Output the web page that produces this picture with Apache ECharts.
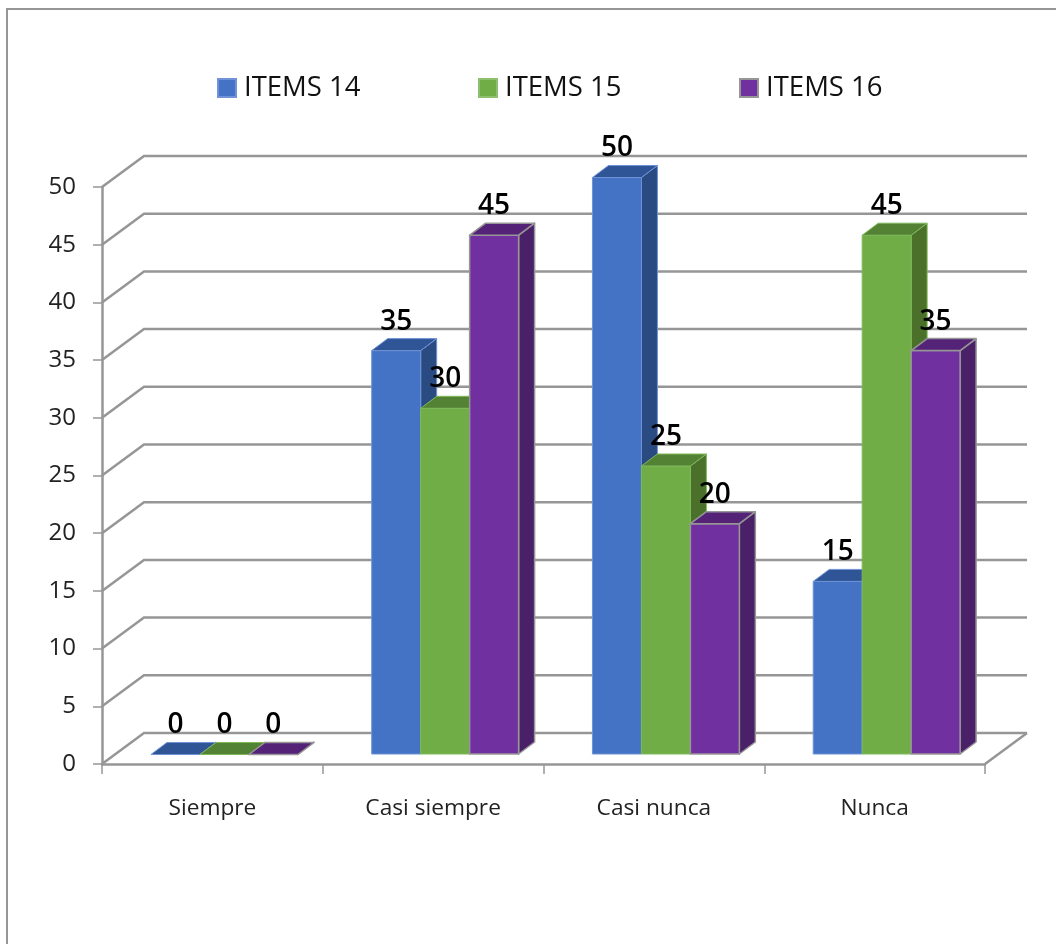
<!DOCTYPE html>
<html><head><meta charset="utf-8">
<style>html,body{margin:0;padding:0;background:#fff}#c{width:1056px;height:944px}canvas{filter:blur(.45px)}</style>
<script src="https://cdn.jsdelivr.net/npm/echarts@6/dist/echarts.min.js"></script>
</head><body><div id="c"></div>
<script>
const categories = ['Siempre', 'Casi siempre', 'Casi nunca', 'Nunca'];
const items14 = [0, 35, 50, 15];
const items15 = [0, 30, 25, 45];
const items16 = [0, 45, 20, 35];
const yTicks = [0, 5, 10, 15, 20, 25, 30, 35, 40, 45, 50];

const GRAY = '#969696';
const chart = echarts.init(document.getElementById('c'), null, {renderer: 'canvas'});

function wall(params, api) {
  const v = api.value(1);
  const band = api.size([1, 0])[0];
  const l = api.coord([0, v]);
  const r = api.coord([3, v]);
  const x0 = l[0] - band / 2, x1 = r[0] + band / 2, y = l[1];
  const children = [{
    type: 'polyline',
    shape: {points: [[x0, y], [x0 + 42, y - 31], [x1 + 42, y - 31]]},
    style: {stroke: GRAY, lineWidth: 2.5, fill: null}
  }];
  if (v === 0) {
    children.push({
      type: 'polyline',
      shape: {points: [[x1 + 42, y - 31], [x1, y]]},
      style: {stroke: GRAY, lineWidth: 2.5, fill: null}
    });
  }
  return {type: 'group', children};
}

function barRenderer(seriesPos, front, top, side, edge) {
  return function (params, api) {
    const cat = api.value(0), v = api.value(1);
    const band = api.size([1, 0])[0];
    const w = band * 0.2218;
    const c = api.coord([cat, v]);
    const b = api.coord([cat, 0]);
    const x0 = c[0] + band * 0.0545 + (seriesPos - 1.5) * w;
    const x1 = x0 + w;
    const yt = c[1] - 9.5, yb = b[1] - 10;
    const dx = 16, dy = 12;
    const st = {stroke: edge, lineWidth: edge === GRAY ? 1.5 : 1, lineJoin: 'round'};
    const children = [];
    children.push({type: 'polygon', shape: {points: [[x1, yt], [x1 + dx, yt - dy], [x1 + dx, yb - dy], [x1, yb]]}, style: Object.assign({fill: side}, st)});
    if (v > 0) {
      children.push({type: 'rect', shape: {x: x0, y: yt, width: w, height: yb - yt}, style: Object.assign({fill: front}, st)});
    }
    children.push({type: 'polygon', shape: {points: [[x0, yt], [x0 + dx, yt - dy], [x1 + dx, yt - dy], [x1, yt]]}, style: Object.assign({fill: top}, st)});
    children.push({
      type: 'text', z2: 100,
      style: {
        text: String(v), x: x0 + w / 2, y: yt - 29,
        align: 'center', verticalAlign: 'middle', fill: '#000',
        font: '600 28px "Open Sans"'
      }
    });
    return {type: 'group', children};
  };
}

function barSeries(name, values, pos, front, top, side, edge, legendBorder) {
  return {
    type: 'custom', name, clip: false, z: 5 + pos,
    renderItem: barRenderer(pos, front, top, side, edge),
    encode: {x: 0, y: 1},
    itemStyle: {color: front, borderColor: legendBorder, borderWidth: legendBorder === GRAY ? 2 : 1},
    data: values.map((v, i) => [i, v])
  };
}

chart.setOption({
  animation: false,
  backgroundColor: '#fff',
  graphic: [{
    type: 'rect', silent: true, z: -1,
    shape: {x: 7, y: 9, width: 1300, height: 1300},
    style: {fill: null, stroke: GRAY, lineWidth: 2}
  }],
  legend: {
    left: 212, top: 69, icon: 'rect', itemWidth: 18, itemHeight: 18, itemGap: 117.5,
    data: ['ITEMS 14', 'ITEMS 15', 'ITEMS 16'],
    selectedMode: false,
    textStyle: {fontFamily: 'Open Sans', fontSize: 27.5, color: '#111', padding: [0, 0, 0, 3]}
  },
  grid: {left: 102, right: 71, top: 187, bottom: 180},
  xAxis: {
    type: 'category', data: categories, boundaryGap: true,
    axisLine: {show: true, lineStyle: {color: GRAY, width: 2.5}},
    axisTick: {show: true, alignWithLabel: false, length: 10, lineStyle: {color: GRAY, width: 1.5}},
    axisLabel: {color: '#222', fontFamily: 'Open Sans', fontSize: 22.7, margin: 33}
  },
  yAxis: {
    type: 'value', min: 0, max: 50, interval: 5,
    axisLine: {show: true, lineStyle: {color: GRAY, width: 2.5}},
    axisTick: {show: true, length: 9, lineStyle: {color: GRAY, width: 1.5}},
    splitLine: {show: false},
    axisLabel: {color: '#222', fontFamily: 'Open Sans', fontSize: 24, margin: 26, padding: [5, 0, 0, 0]}
  },
  series: [
    {type: 'custom', name: 'walls', clip: false, z: 1, silent: true, renderItem: wall,
     encode: {x: 0, y: 1}, data: yTicks.map(v => [0, v])},
    barSeries('ITEMS 14', items14, 0, '#4472C4', '#2F5597', '#2A4A82', '#6f93d6', '#6f93d6'),
    barSeries('ITEMS 15', items15, 1, '#70AD47', '#548235', '#4A7029', '#7fb95a', '#8fc070'),
    barSeries('ITEMS 16', items16, 2, '#7030A0', '#542378', '#4A2068', GRAY, GRAY)
  ]
});
</script></body></html>
